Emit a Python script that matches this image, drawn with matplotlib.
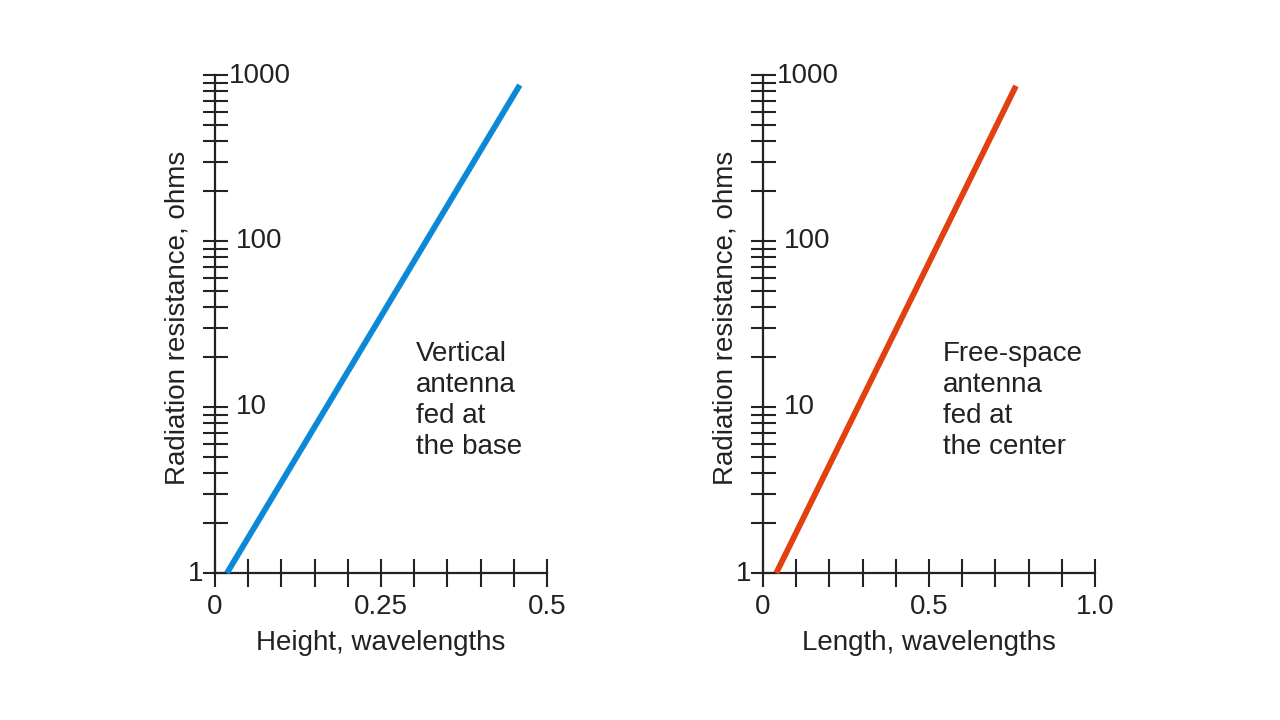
import matplotlib
matplotlib.use("Agg")
import matplotlib.pyplot as plt
import matplotlib.transforms as mtransforms
import numpy as np

plt.rcParams['font.family'] = ['Liberation Sans', 'DejaVu Sans']

# Data: endpoints of the straight lines on semilog axes
left_x = [0.018, 0.459]
left_y = [1.0, 870.0]
right_x = [0.04, 0.762]
right_y = [1.0, 860.0]

left_xticks = [0, 0.25, 0.5]
left_xticklabels = ['0', '0.25', '0.5']
right_xticks = [0, 0.5, 1.0]
right_xticklabels = ['0', '0.5', '1.0']
ytick_vals = [1, 10, 100, 1000]
ytick_labels = ['1', '10', '100', '1000']

ylabel = 'Radiation resistance, ohms'
left_xlabel = 'Height, wavelengths'
right_xlabel = 'Length, wavelengths'
left_note = 'Vertical\nantenna\nfed at\nthe base'
right_note = 'Free-space\nantenna\nfed at\nthe center'

BLUE = '#0b88d6'
RED = '#e2400f'
INK = '#222222'
FS = 20

fig = plt.figure(figsize=(12.8, 7.2), dpi=100)
W, H = 1280, 720


def make_axes(x0px, x1px, xmax, xticks, xticklabels, xlabel, xs, ys, color, note, note_x):
    top, bot = 75, 573
    ax = fig.add_axes([x0px / W, (H - bot) / H, (x1px - x0px) / W, (bot - top) / H])
    ax.set_yscale('log')
    ax.set_xlim(0, xmax)
    ax.set_ylim(1, 1000)
    for s in ['top', 'right']:
        ax.spines[s].set_visible(False)
    for s in ['left', 'bottom']:
        ax.spines[s].set_linewidth(1.6)
        ax.spines[s].set_color(INK)
    ax.plot(xs, ys, color=color, lw=4.2, solid_capstyle='butt', clip_on=False, zorder=3)

    # x ticks every tenth of the range
    ax.set_xticks(np.linspace(0, xmax, 11))
    ax.set_xticklabels([])
    ax.tick_params(axis='x', which='major', direction='inout', length=19.5, width=1.5, color=INK)
    # y ticks: 1..9 per decade
    ax.yaxis.set_major_locator(matplotlib.ticker.LogLocator(base=10, subs=np.arange(1, 10)))
    ax.yaxis.set_minor_locator(matplotlib.ticker.NullLocator())
    ax.yaxis.set_major_formatter(matplotlib.ticker.NullFormatter())
    ax.tick_params(axis='y', which='major', direction='inout', length=18, width=1.5, color=INK)

    # x tick labels
    for v, t in zip(xticks, xticklabels):
        ax.text(v, -0.042, t, transform=mtransforms.blended_transform_factory(ax.transData, ax.transAxes),
                ha='center', va='top', fontsize=FS, color=INK)
    # y tick labels
    tr = mtransforms.blended_transform_factory(ax.transAxes, ax.transData)
    for v, t in zip(ytick_vals, ytick_labels):
        if v == 1:
            off = mtransforms.offset_copy(tr, fig=fig, x=-12, y=-1, units='dots')
            ax.text(0, v, t, transform=off, ha='right', va='center', fontsize=FS, color=INK)
        elif v == 1000:
            off = mtransforms.offset_copy(tr, fig=fig, x=14, y=-1, units='dots')
            ax.text(0, v, t, transform=off, ha='left', va='center', fontsize=FS, color=INK)
        else:
            off = mtransforms.offset_copy(tr, fig=fig, x=21, y=0, units='dots')
            ax.text(0, v, t, transform=off, ha='left', va='center', fontsize=FS, color=INK)

    ax.text(0.5, (573 - 643) / 498, xlabel, transform=ax.transAxes, ha='center', va='center',
            fontsize=FS, color=INK)
    ax.text((178 - 215) / 332, (573 - 318) / 498, ylabel, transform=ax.transAxes, ha='center',
            va='center', rotation=90, fontsize=FS, color=INK)
    ax.text(note_x, 10 ** ((573 - 341) / 166), note, ha='left', va='top', fontsize=FS,
            color=INK, linespacing=1.25)
    return ax


make_axes(215, 547, 0.5, left_xticks, left_xticklabels, left_xlabel, left_x, left_y, BLUE, left_note, 0.303)
make_axes(763, 1095, 1.0, right_xticks, right_xticklabels, right_xlabel, right_x, right_y, RED, right_note, 0.542)

fig.savefig('out.png', dpi=100, facecolor='white')
